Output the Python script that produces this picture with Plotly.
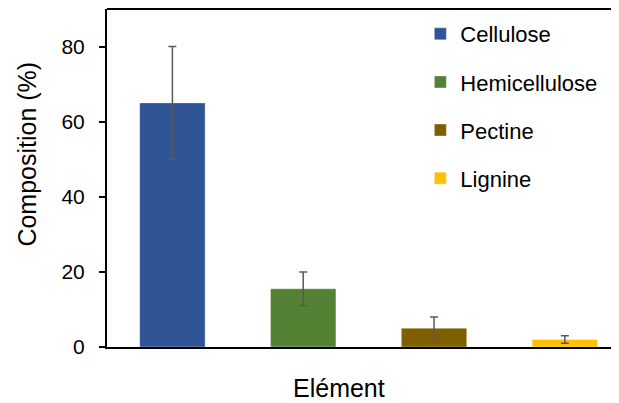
import plotly.graph_objects as go

categories = ["Cellulose", "Hemicellulose", "Pectine", "Lignine"]
values = [65, 15.5, 5, 2]
errors = [15, 4.5, 3, 1]
colors = ["#2F5597", "#548235", "#7F6000", "#FFC000"]
y_ticks = [0, 20, 40, 60, 80]

FONT = "Liberation Sans, Arial, sans-serif"

fig = go.Figure()
for i, (cat, val, err, col) in enumerate(zip(categories, values, errors, colors)):
    fig.add_trace(go.Bar(
        x=[i], y=[val], name=cat,
        marker=dict(color=col, line=dict(color="rgba(255,255,255,0.35)", width=1)),
        width=0.5,
        error_y=dict(type="data", array=[err], color="#595959", thickness=1.5, width=4),
        legendgroup=cat,
    ))

fig.update_layout(
    width=611, height=395,
    margin=dict(l=99, r=0, t=1, b=56),
    paper_bgcolor="white", plot_bgcolor="white",
    barmode="overlay",
    font=dict(family=FONT, size=21, color="#000000"),
    showlegend=True,
    legend=dict(x=0.612, y=0.988, xanchor="left", yanchor="top",
                font=dict(size=22), tracegroupgap=16.5,
                bgcolor="rgba(0,0,0,0)"),
    xaxis=dict(range=[-0.5, 3.414], showticklabels=False, showgrid=False,
               zeroline=False, showline=True, linecolor="black", linewidth=2,
               ticks=""),
    yaxis=dict(range=[0, 90], tickvals=y_ticks, showgrid=False, zeroline=False,
               showline=True, linecolor="black", linewidth=2,
               ticks="outside", ticklen=6, tickwidth=1.5, tickcolor="black",
               ticklabelstandoff=10,
               tickfont=dict(size=21)),
    shapes=[dict(type="line", xref="paper", yref="paper", x0=0, x1=1, y0=1, y1=1,
                 line=dict(color="black", width=2))],
    annotations=[
        dict(text="Elément", xref="paper", yref="paper", x=0.454, y=0,
             xanchor="center", yanchor="middle", yshift=-41,
             showarrow=False, font=dict(size=25)),
        dict(text="Composition (%)", xref="paper", yref="paper", x=-0.157, y=0.571,
             xanchor="center", yanchor="middle", textangle=-90,
             showarrow=False, font=dict(size=25)),
    ],
)

fig.write_html("out.html")
